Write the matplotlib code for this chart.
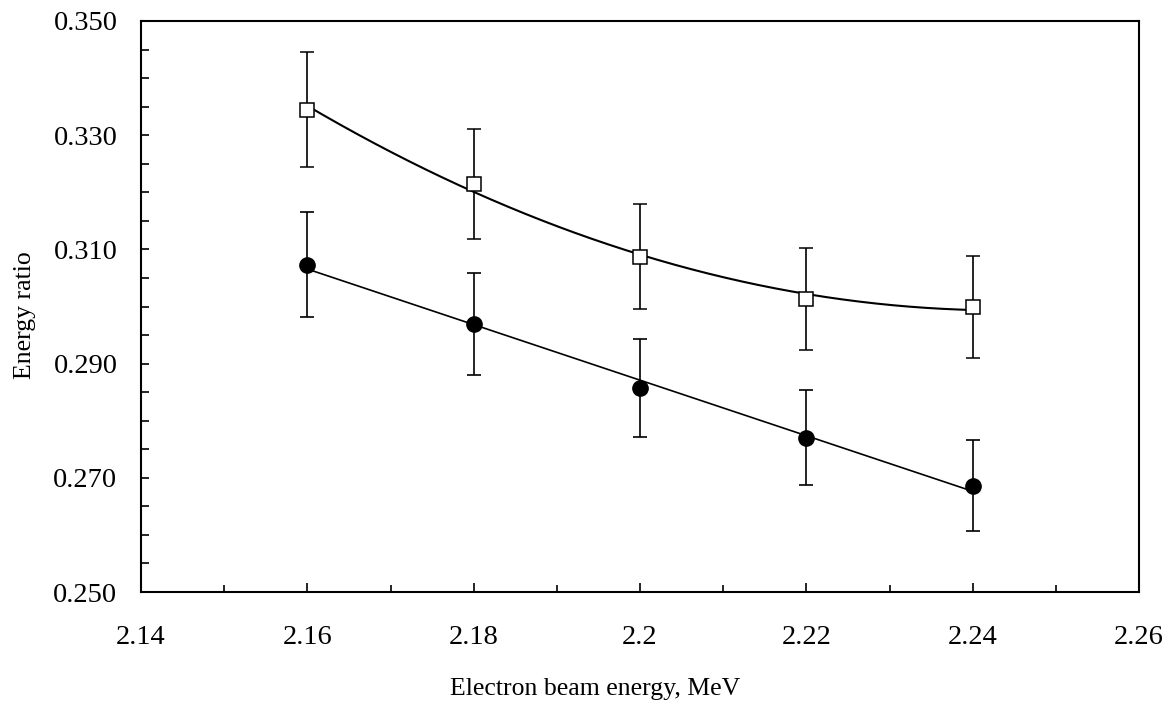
import numpy as np
import matplotlib
matplotlib.use("Agg")
import matplotlib.pyplot as plt
from matplotlib.ticker import MultipleLocator

plt.rcParams['font.family'] = ['Liberation Serif', 'DejaVu Serif']

# Data
beam_energy = [2.16, 2.18, 2.20, 2.22, 2.24]
ratio_square = [0.3345, 0.3215, 0.3087, 0.3013, 0.2999]
err_square = [0.0100, 0.0096, 0.0092, 0.0090, 0.0090]
ratio_circle = [0.3073, 0.2969, 0.2857, 0.2770, 0.2686]
err_circle = [0.0092, 0.0089, 0.0086, 0.0083, 0.0080]

x_ticks = [2.14, 2.16, 2.18, 2.20, 2.22, 2.24, 2.26]
x_tick_labels = ["2.14", "2.16", "2.18", "2.2", "2.22", "2.24", "2.26"]
y_ticks = [0.250, 0.270, 0.290, 0.310, 0.330, 0.350]
y_tick_labels = ["0.250", "0.270", "0.290", "0.310", "0.330", "0.350"]

W, H = 1176, 704
fig = plt.figure(figsize=(W / 100, H / 100), dpi=100)
ax = fig.add_axes([141 / W, 1 - 592 / H, (1139 - 141) / W, (592 - 21) / H])

x = np.array(beam_energy)
xf = np.linspace(x.min(), x.max(), 200)

# Trendlines
p2 = np.polyfit(x, ratio_square, 2)
ax.plot(xf, np.polyval(p2, xf), color='black', lw=1.5, zorder=2)
p1 = np.polyfit(x, ratio_circle, 1)
ax.plot(xf, np.polyval(p1, xf), color='black', lw=1.2, zorder=2)

# Error bars + markers
ax.errorbar(x, ratio_square, yerr=err_square, fmt='s', ms=9.5, mfc='white',
            mec='black', mew=1.1, ecolor='black', elinewidth=1.2, capsize=5,
            capthick=1.2, zorder=3)
ax.errorbar(x, ratio_circle, yerr=err_circle, fmt='o', ms=11, mfc='black',
            mec='black', ecolor='black', elinewidth=1.2, capsize=5,
            capthick=1.2, zorder=3)

ax.set_xlim(2.14, 2.26)
ax.set_ylim(0.25, 0.35)
ax.set_xticks(x_ticks)
ax.set_xticklabels(x_tick_labels)
ax.set_yticks(y_ticks)
ax.set_yticklabels(y_tick_labels)
ax.xaxis.set_minor_locator(MultipleLocator(0.01))
ax.yaxis.set_minor_locator(MultipleLocator(0.005))

ax.tick_params(axis='x', which='major', direction='in', length=6.5, width=1.2,
               labelsize=20.5, pad=24, top=False)
ax.tick_params(axis='x', which='minor', direction='in', length=5, width=1.2, top=False)
ax.tick_params(axis='y', which='major', direction='in', length=6, width=1.2,
               labelsize=20.5, pad=17, right=False)
ax.tick_params(axis='y', which='minor', direction='in', length=6, width=1.2, right=False)

for s in ax.spines.values():
    s.set_linewidth(1.5)
    s.set_color('black')

fig.text(595.5 / W, 1 - 695 / H, "Electron beam energy, MeV", fontsize=18.5,
         ha='center', va='baseline')
fig.text(25 / W, 1 - 315 / H, "Energy ratio", fontsize=18.5,
         ha='center', va='center', rotation=90)

fig.savefig("out.png", dpi=100)
